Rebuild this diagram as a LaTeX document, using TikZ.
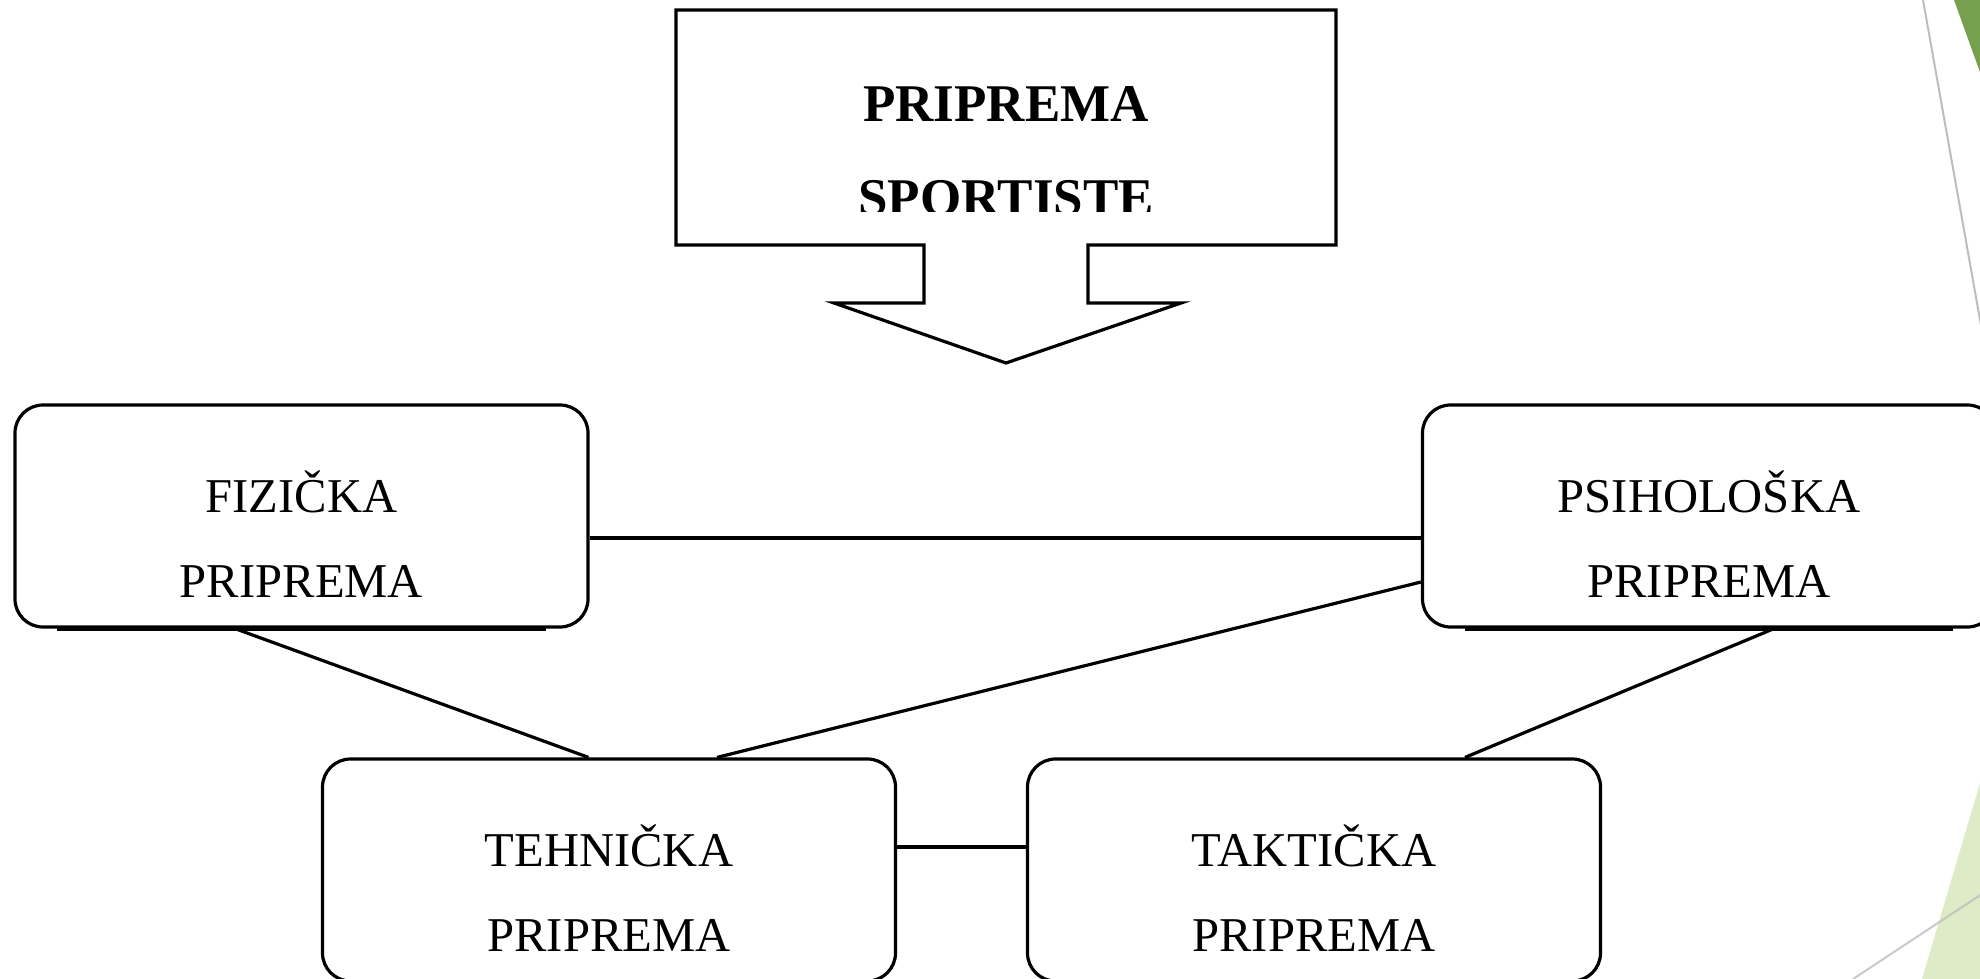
\documentclass[tikz,border=0pt]{standalone}
\usepackage{fontspec}
\setmainfont{Liberation Serif}
\definecolor{darkgreen}{HTML}{76A04E}
\definecolor{lightgreen}{HTML}{DDEBC6}
\definecolor{decoline}{HTML}{BDBDBD}
\begin{document}
\begin{tikzpicture}[x=0.5pt,y=-0.5pt,
  box/.style={draw, line width=1.6pt, rounded corners=14pt, minimum width=286.5pt, minimum height=111pt, inner sep=0pt},
  lbl/.style={anchor=base, font=\fontsize{24.3pt}{29pt}\selectfont, inner sep=0pt},
  ttl/.style={anchor=base, font=\fontsize{26.5pt}{32pt}\selectfont\bfseries, inner sep=0pt},
  conn/.style={line width=1.6pt},
  edge/.style={line width=1.6pt}]
\clip (0,0) rectangle (1980,979);
\fill[white] (0,0) rectangle (1980,979);
% slide decorations
\fill[darkgreen] (1954,0) -- (1990,0) -- (1990,100) -- cycle;
\draw[decoline, line width=1pt] (1923,0) -- (1990,376);
\fill[lightgreen] (1980,783) -- (1922,979) -- (1990,979) -- (1990,750) -- cycle;
\draw[decoline, opacity=0.8, line width=1pt] (1853,979) -- (1990,888.6);
% title arrow box
\draw[line width=1.6pt] (676,10) -- (1336,10) -- (1336,245) -- (1088,245) -- (1088,303)
  -- (1181,303) -- (1006,363) -- (834,303) -- (924,303) -- (924,245) -- (676,245) -- cycle;
\begin{scope}
\clip (676,10) rectangle (1336,211.5);
\node[ttl] (t1) at (1006,121.5) {PRIPREMA};
\node[ttl] (t2) at (1006,215) {SPORTISTE};
\end{scope}
% boxes
\node[box] (fiz) at (301.5,516) {};
\node[box] (psi) at (1709,516) {};
\node[box] (teh) at (609,870) {};
\node[box] (tak) at (1314,870) {};
\foreach \n in {fiz,psi,teh,tak}
  \draw[edge] ([xshift=22pt,yshift=-0.5pt]\n.south west) -- ([xshift=-22pt,yshift=-0.5pt]\n.south east);
% labels
\node[lbl] (fizA) at (301.5,512) {FIZIČKA};
\node[lbl] (fizB) at (301.5,597) {PRIPREMA};
\node[lbl] (psiA) at (1709,512) {PSIHOLOŠKA};
\node[lbl] (psiB) at (1709,597) {PRIPREMA};
\node[lbl] (tehA) at (609,866) {TEHNIČKA};
\node[lbl] (tehB) at (609,951) {PRIPREMA};
\node[lbl] (takA) at (1314,866) {TAKTIČKA};
\node[lbl] (takB) at (1314,951) {PRIPREMA};
% connectors
\draw[conn] ([yshift=-11pt]fiz.east) -- ([yshift=-11pt]psi.west);
\draw[conn] ([yshift=-33pt]psi.west) -- ([xshift=54pt]teh.north);
\draw[conn] ([xshift=-33.25pt]fiz.south) -- ([xshift=-10.25pt]teh.north);
\draw[conn] ([xshift=32.5pt]psi.south) -- ([xshift=75.5pt]tak.north);
\draw[conn] ([yshift=11.5pt]teh.east) -- ([yshift=11.5pt]tak.west);
\end{tikzpicture}
\end{document}
